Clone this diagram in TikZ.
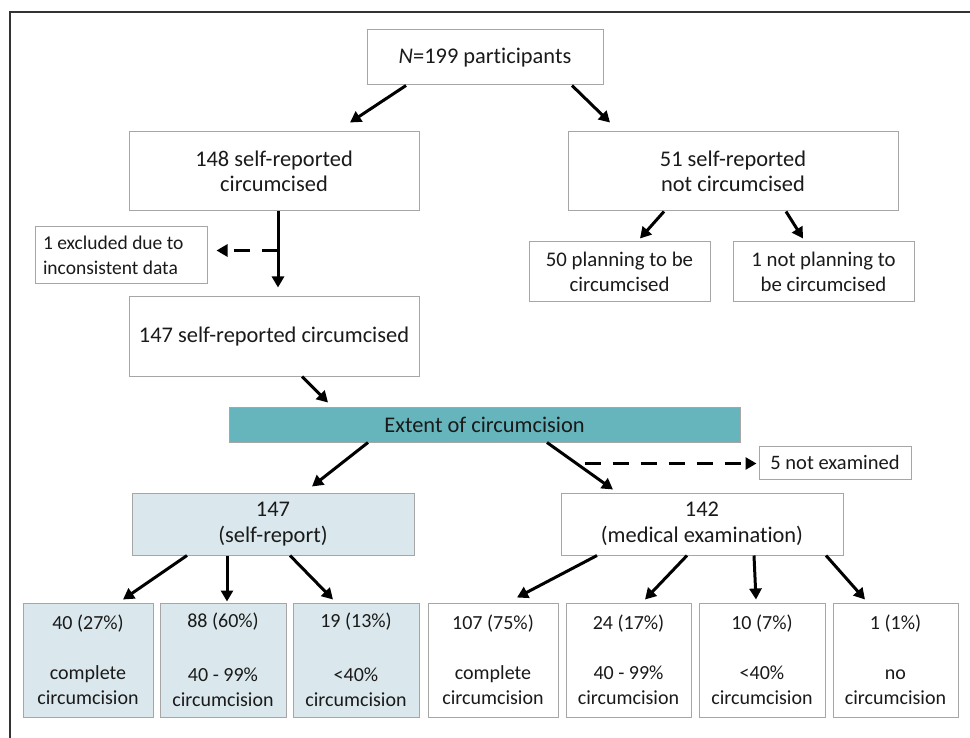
\documentclass[tikz,border=0pt]{standalone}
\usepackage{fontspec}
\setmainfont{Carlito}[Ligatures={NoCommon}]
\usetikzlibrary{arrows.meta}
\definecolor{boxgray}{HTML}{A6A6A6}
\definecolor{txt}{HTML}{1A1A1A}
\definecolor{teal}{HTML}{66B5BC}
\definecolor{pale}{HTML}{DAE8ED}
\definecolor{frame}{HTML}{333333}
\begin{document}
\begin{tikzpicture}[x=1pt,y=-1pt,
  box/.style={draw=boxgray, line width=1pt, fill=white, text=txt, align=center, inner sep=0pt,
    font=\fontsize{22.4}{25.5}\selectfont},
  palebox/.style={box, fill=pale},
  smallfont/.style={font=\fontsize{20.8}{25}\selectfont},
  botfont/.style={font=\fontsize{20}{24.5}\selectfont},
  arr/.style={line width=3pt, -{Triangle[length=11pt,width=12pt]}, draw=black},
  darr/.style={arr, dash pattern=on 16pt off 12pt}]
\useasboundingbox (0,0) rectangle (970,738);
\fill[white] (0,0) rectangle (970,738);
\draw[frame, line width=1.5pt] (10,738) -- (10,12) -- (970,12);

\node[box, minimum width=236, minimum height=55] (top) at (485,57.5) {\textit{N}=199 participants};
\node[box, minimum width=290, minimum height=79] (c148) at (274,171.5) {148 self-reported\\circumcised};
\node[box, minimum width=330, minimum height=79] (c51) at (733,171.5) {51 self-reported\\not circumcised};
\node[box, minimum width=172, minimum height=57, text width=156, align=flush left, font=\fontsize{19.5}{25}\selectfont] (excl) at (121,255.5) {1 excluded due to\\inconsistent data};
\node[box, minimum width=290, minimum height=79] (c147) at (274,336.5) {147 self-reported circumcised};
\node[box, smallfont, minimum width=181, minimum height=60] (plan) at (619.5,272) {50 planning to be\\circumcised};
\node[box, smallfont, minimum width=181, minimum height=60] (noplan) at (823.5,272) {1 not planning to\\be circumcised};
\node[box, fill=teal, minimum width=511, minimum height=35] (extent) at (484.5,424.5) {Extent of circumcision};
\node[box, font=\fontsize{20.5}{25}\selectfont, minimum width=152, minimum height=33] (notex) at (835,462.5) {5 not examined};
\node[palebox, minimum width=282, minimum height=62] (sr) at (273,524) {147\\(self-report)};
\node[box, minimum width=282, minimum height=62] (med) at (702,524) {142\\(medical examination)};

\node[palebox, botfont, minimum width=130, minimum height=114] (b1) at (88,660) {40 (27\%)\\[25.5pt]complete\\circumcision};
\node[palebox, botfont, minimum width=126, minimum height=114] (b2) at (223,660) {88 (60\%)\\[29.5pt]40 - 99\%\\circumcision};
\node[palebox, botfont, minimum width=126, minimum height=114] (b3) at (356,660) {19 (13\%)\\[29.5pt]<40\%\\circumcision};
\node[box, botfont, minimum width=130, minimum height=114] (b4) at (493,660) {107 (75\%)\\[25.5pt]complete\\circumcision};
\node[box, botfont, minimum width=125, minimum height=114] (b5) at (628.5,660) {24 (17\%)\\[25.5pt]40 - 99\%\\circumcision};
\node[box, botfont, minimum width=126, minimum height=114] (b6) at (762,660) {10 (7\%)\\[25.5pt]<40\%\\circumcision};
\node[box, botfont, minimum width=125, minimum height=114] (b7) at (895.5,660) {1 (1\%)\\[25.5pt]no\\circumcision};

\draw[arr] ([xshift=-79]top.south) -- ([xshift=76,yshift=9]c148.north);
\draw[arr] ([xshift=87]top.south) -- ([xshift=-123,yshift=9]c51.north);
\draw[arr] ([xshift=4]c148.south) -- ([xshift=4,yshift=9]c147.north);
\coordinate (split) at ([xshift=4,yshift=-39]c148.south);
\draw[darr] (split) -- ([xshift=9]split -| excl.east);
\draw[arr] ([xshift=-69]c51.south) -- ([xshift=20.5,yshift=3]plan.north);
\draw[arr] ([xshift=53]c51.south) -- ([xshift=-20.5,yshift=3]noplan.north);
\draw[arr] ([xshift=28]c147.south) -- ([xshift=-156.5,yshift=4]extent.north);
\draw[arr] ([xshift=-116.5]extent.south) -- ([xshift=39,yshift=6]sr.north);
\draw[arr] ([xshift=62.5]extent.south) -- ([xshift=-89,yshift=3]med.north);
\coordinate (split2) at ([xshift=100,yshift=-21]extent.south);
\draw[darr] (split2) -- ([xshift=-2]split2 -| notex.west);
\draw[arr] ([xshift=-86]sr.south) -- ([xshift=35,yshift=3]b1.north);
\draw[arr] ([xshift=-46]sr.south) -- ([xshift=4,yshift=1]b2.north);
\draw[arr] ([xshift=17]sr.south) -- ([xshift=-23,yshift=3]b3.north);
\draw[arr] ([xshift=-105]med.south) -- ([xshift=24,yshift=5]b4.north);
\draw[arr] ([xshift=-15]med.south) -- ([xshift=16.5,yshift=3]b5.north);
\draw[arr] ([xshift=52]med.south) -- ([xshift=-6,yshift=3]b6.north);
\draw[arr] ([xshift=124]med.south) -- ([xshift=-30.5,yshift=3]b7.north);
\end{tikzpicture}
\end{document}
